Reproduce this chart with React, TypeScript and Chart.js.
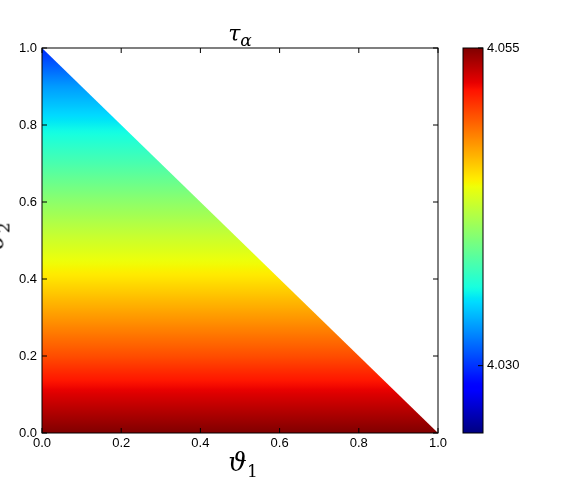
import React, { useEffect, useRef } from "react";
import { Chart, registerables } from "chart.js";

Chart.register(...registerables);

// ---- data ----
const triangleX = [0, 0, 1];
const triangleY = [0, 1, 0];
const thetaLevels = [0, 0.1, 0.2, 0.3, 0.4, 0.5, 0.6, 0.7, 0.8, 0.9, 1.0];
const tauValues = [4.055, 4.0526, 4.0498, 4.0474, 4.045, 4.0429, 4.0405, 4.038, 4.0356, 4.0331, 4.0297];
const cbMin = 4.0247;
const cbMax = 4.055;
const cbTicks = [4.03, 4.055];
const axisTicks = [0, 0.2, 0.4, 0.6, 0.8, 1.0];

const TICK_FONT = { family: "'Liberation Sans', Arial, sans-serif", size: 13 };

// matplotlib "jet" segment data
const JET_R = [[0, 0], [0.35, 0], [0.66, 1], [0.89, 1], [1, 0.5]];
const JET_G = [[0, 0], [0.125, 0], [0.375, 1], [0.64, 1], [0.91, 0], [1, 0]];
const JET_B = [[0, 0.5], [0.11, 1], [0.34, 1], [0.65, 0], [1, 0]];

function clamp01(v: number) {
  return Math.max(0, Math.min(1, v));
}
function seg(pts: number[][], t: number) {
  for (let i = 0; i < pts.length - 1; i++) {
    const [x0, y0] = pts[i];
    const [x1, y1] = pts[i + 1];
    if (t <= x1) return y0 + ((t - x0) / (x1 - x0 || 1)) * (y1 - y0);
  }
  return pts[pts.length - 1][1];
}
function jet(t: number) {
  t = clamp01(t);
  const r = seg(JET_R, t);
  const g = seg(JET_G, t);
  const b = seg(JET_B, t);
  return `rgb(${Math.round(r * 255)},${Math.round(g * 255)},${Math.round(b * 255)})`;
}
const norm = (v: number) => (v - cbMin) / (cbMax - cbMin);

const framePlugin = {
  id: "frameTicks",
  afterDraw(chart: any, _args: any, opts: any) {
    const { ctx, chartArea } = chart;
    const { left, right, top, bottom } = chartArea;
    ctx.save();
    ctx.strokeStyle = "#000";
    ctx.lineWidth = 1;
    ctx.strokeRect(left, top, right - left, bottom - top);
    const len = 5;
    ctx.beginPath();
    if (opts.xTicks) {
      const xs = chart.scales.x;
      xs.ticks.forEach((t: any) => {
        const p = xs.getPixelForValue(t.value);
        ctx.moveTo(p, bottom);
        ctx.lineTo(p, bottom - len);
        ctx.moveTo(p, top);
        ctx.lineTo(p, top + len);
      });
    }
    const ys = chart.scales.y;
    ys.ticks.forEach((t: any) => {
      const p = ys.getPixelForValue(t.value);
      if (opts.leftTicks) {
        ctx.moveTo(left, p);
        ctx.lineTo(left + len, p);
      }
      ctx.moveTo(right, p);
      ctx.lineTo(right - len, p);
    });
    ctx.stroke();
    ctx.restore();
  },
};

export default function App() {
  const mainRef = useRef<HTMLCanvasElement>(null);
  const cbRef = useRef<HTMLCanvasElement>(null);

  useEffect(() => {
    const main = new Chart(mainRef.current!, {
      type: "scatter",
      data: {
        datasets: [
          {
            data: triangleX.map((x, i) => ({ x, y: triangleY[i] })),
            showLine: true,
            fill: "origin",
            borderWidth: 0,
            pointRadius: 0,
            borderColor: "rgba(0,0,0,0)",
            backgroundColor: (c: any) => {
              const chart = c.chart;
              const { chartArea, scales } = chart;
              if (!chartArea) return "rgba(0,0,0,0)";
              const y = scales.y;
              const p0 = y.getPixelForValue(0);
              const p1 = y.getPixelForValue(1);
              const g = chart.ctx.createLinearGradient(0, p0, 0, p1);
              for (let i = 0; i < thetaLevels.length - 1; i++) {
                const steps = 8;
                for (let s = 0; s <= steps; s++) {
                  const f = s / steps;
                  const th = thetaLevels[i] + f * (thetaLevels[i + 1] - thetaLevels[i]);
                  const v = tauValues[i] + f * (tauValues[i + 1] - tauValues[i]);
                  g.addColorStop(clamp01(th), jet(norm(v)));
                }
              }
              return g;
            },
          } as any,
        ],
      },
      options: {
        animation: false,
        responsive: false,
        layout: { padding: { left: 0, top: 48, right: 148, bottom: 0 } },
        plugins: { legend: { display: false }, tooltip: { enabled: false }, frameTicks: { xTicks: true, leftTicks: true } } as any,
        scales: {
          x: {
            type: "linear",
            min: 0,
            max: 1,
            grid: { display: false, drawTicks: false, tickLength: 0 },
            border: { display: false },
            afterBuildTicks: (s: any) => {
              s.ticks = axisTicks.map((v) => ({ value: v }));
            },
            afterFit: (s: any) => {
              s.height = 49;
            },
            ticks: { color: "#000", font: TICK_FONT, padding: 3, maxRotation: 0, callback: (v: any) => Number(v).toFixed(1) },
          },
          y: {
            type: "linear",
            min: 0,
            max: 1,
            grid: { display: false, drawTicks: false, tickLength: 0 },
            border: { display: false },
            afterBuildTicks: (s: any) => {
              s.ticks = axisTicks.map((v) => ({ value: v }));
            },
            afterFit: (s: any) => {
              s.width = 42;
            },
            ticks: { color: "#000", font: TICK_FONT, padding: 5, callback: (v: any) => Number(v).toFixed(1) },
          },
        },
      },
      plugins: [framePlugin],
    });

    const cb = new Chart(cbRef.current!, {
      type: "bar",
      data: {
        labels: ["c"],
        datasets: [
          {
            data: [[cbMin, cbMax]] as any,
            barPercentage: 1,
            categoryPercentage: 1,
            borderWidth: 0,
            backgroundColor: (c: any) => {
              const chart = c.chart;
              const { chartArea, scales } = chart;
              if (!chartArea) return "rgba(0,0,0,0)";
              const y = scales.y;
              const g = chart.ctx.createLinearGradient(0, y.getPixelForValue(cbMin), 0, y.getPixelForValue(cbMax));
              for (let i = 0; i <= 100; i++) g.addColorStop(i / 100, jet(i / 100));
              return g;
            },
          } as any,
        ],
      },
      options: {
        animation: false,
        responsive: false,
        layout: { padding: { left: 463, top: 48, right: 0, bottom: 49 } },
        plugins: { legend: { display: false }, tooltip: { enabled: false }, frameTicks: { xTicks: false, leftTicks: false } } as any,
        scales: {
          x: { display: false },
          y: {
            position: "right",
            min: cbMin,
            max: cbMax,
            grid: { display: false, drawTicks: false, tickLength: 0 },
            border: { display: false },
            afterBuildTicks: (s: any) => {
              s.ticks = cbTicks.map((v) => ({ value: v }));
            },
            afterFit: (s: any) => {
              s.width = 103;
            },
            ticks: { color: "#000", font: TICK_FONT, padding: 4, callback: (v: any) => Number(v).toFixed(3) },
          },
        },
      },
      plugins: [framePlugin],
    });

    return () => {
      main.destroy();
      cb.destroy();
    };
  }, []);

  const serif = "'DejaVu Serif', 'Liberation Serif', serif";
  return (
    <div style={{ position: "fixed", left: 0, top: 0, width: 586, height: 482, background: "#fff" }}>
      <canvas ref={mainRef} width={586} height={482} style={{ position: "absolute", left: 0, top: 0 }} />
      <canvas ref={cbRef} width={586} height={482} style={{ position: "absolute", left: 0, top: 0 }} />
      <div
        style={{
          position: "absolute",
          left: 240,
          top: 22,
          transform: "translateX(-50%)",
          fontFamily: serif,
          fontStyle: "italic",
          fontSize: 22,
          lineHeight: "24px",
          whiteSpace: "nowrap",
        }}
      >
        τ<sub style={{ fontSize: 17 }}>α</sub>
      </div>
      <div
        style={{
          position: "absolute",
          left: 243,
          top: 448,
          transform: "translateX(-50%)",
          fontFamily: serif,
          fontStyle: "italic",
          fontSize: 26,
          lineHeight: "28px",
          whiteSpace: "nowrap",
        }}
      >
        ϑ<sub style={{ fontSize: 17, fontStyle: "normal" }}>1</sub>
      </div>
      <div
        style={{
          position: "absolute",
          left: -1,
          top: 237,
          transform: "translate(-50%, -50%) rotate(-90deg)",
          fontFamily: serif,
          fontStyle: "italic",
          fontSize: 26,
          lineHeight: "28px",
          whiteSpace: "nowrap",
        }}
      >
        ϑ<sub style={{ fontSize: 17, fontStyle: "normal" }}>2</sub>
      </div>
    </div>
  );
}
